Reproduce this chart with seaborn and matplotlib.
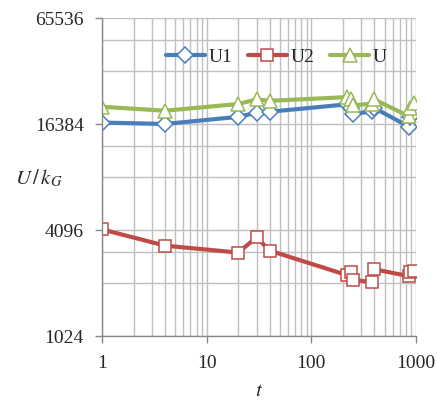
import matplotlib
matplotlib.use("Agg")
import matplotlib.pyplot as plt
import matplotlib.ticker as mticker
import seaborn as sns

t = [1, 4, 20, 30, 40, 220, 240, 250, 380, 400, 860, 880, 950]
U1 = [16700, 16400, 18000, 19000, 19250, 21200, 20200, 18700, 19350, 20200, 15800, 17900, 19000]
U2 = [4130, 3340, 3050, 3720, 3130, 2270, 2380, 2130, 2080, 2450, 2240, 2375, 2405]
U = [20540, 19500, 21300, 22600, 22200, 23300, 22600, 20900, 21400, 22600, 18100, 20300, 21600]

y_major = [1024, 4096, 16384, 65536]
y_minor = [2048, 3072, 8192, 12288, 32768, 49152]
x_major = [1, 10, 100, 1000]

sns.set_style("white")
plt.rcParams["font.family"] = ["Liberation Serif", "DejaVu Serif"]
plt.rcParams["mathtext.fontset"] = "stix"

fig = plt.figure(figsize=(4.37, 4.01), dpi=100)
ax = fig.add_axes([0.2334, 0.162, 0.7186, 0.793])

grid_col = "#BFBFBF"
sns.lineplot(x=t, y=U1, ax=ax, color="#4A7EBB", lw=3.0, marker="D", ms=8,
             mfc="white", mec="#4A7EBB", mew=1.1, label="U1", sort=False)
sns.lineplot(x=t, y=U2, ax=ax, color="#BE4B48", lw=3.0, marker="s", ms=9,
             mfc="white", mec="#BE4B48", mew=1.1, label="U2", sort=False)
sns.lineplot(x=t, y=U, ax=ax, color="#98B954", lw=3.0, marker="^", ms=10,
             mfc="white", mec="#98B954", mew=1.1, label="U", sort=False)

ax.set_xscale("log")
ax.set_yscale("log", base=2)
ax.set_xlim(1, 1000)
ax.set_ylim(1024, 65536)

ax.yaxis.set_major_locator(mticker.FixedLocator(y_major))
ax.yaxis.set_major_formatter(mticker.FixedFormatter([str(v) for v in y_major]))
ax.yaxis.set_minor_locator(mticker.FixedLocator(y_minor))
ax.yaxis.set_minor_formatter(mticker.NullFormatter())
ax.xaxis.set_major_locator(mticker.FixedLocator(x_major))
ax.xaxis.set_major_formatter(mticker.FixedFormatter([str(v) for v in x_major]))
ax.xaxis.set_minor_locator(mticker.LogLocator(base=10, subs=range(2, 10)))
ax.xaxis.set_minor_formatter(mticker.NullFormatter())

ax.grid(True, which="both", color=grid_col, lw=1.0)
ax.set_axisbelow(True)
for s in ["top", "right"]:
    ax.spines[s].set_visible(False)
for s in ["left", "bottom"]:
    ax.spines[s].set_color("#888888")
    ax.spines[s].set_linewidth(1.0)

ax.tick_params(which="major", direction="out", length=5, width=1, color="#888888",
               labelsize=14, left=True, bottom=True)
ax.tick_params(axis="y", which="major", pad=8)
ax.tick_params(axis="x", which="major", pad=9)
ax.tick_params(which="minor", length=0)

ax.set_xlabel("$t$", fontsize=15, labelpad=7)
ax.set_ylabel("")
fig.text(0.088, 0.556, "$U\\,/\\,k_G$", fontsize=15, ha="center", va="center")

leg = ax.legend(loc="upper center", bbox_to_anchor=(0.555, 0.96), ncol=3, frameon=False,
                fontsize=14, handlelength=2.0, handletextpad=0.2, columnspacing=0.8)

fig.savefig("out.png", dpi=100)
